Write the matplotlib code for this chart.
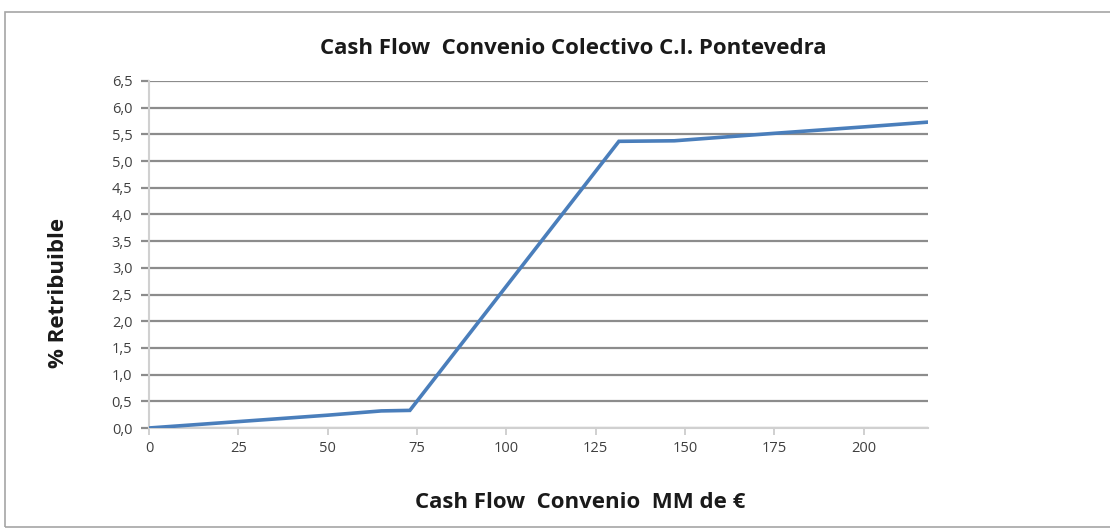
import matplotlib
matplotlib.use("Agg")
import matplotlib.pyplot as plt
from matplotlib.patches import Rectangle
from matplotlib.ticker import FuncFormatter

# Data
cash_flow = [0, 25, 50, 65, 73, 131.5, 147, 175, 200, 218]
pct_retribuible = [0, 0.12, 0.24, 0.32, 0.33, 5.37, 5.38, 5.52, 5.64, 5.73]
x_ticks = [0, 25, 50, 75, 100, 125, 150, 175, 200]
y_ticks = [0, 0.5, 1, 1.5, 2, 2.5, 3, 3.5, 4, 4.5, 5, 5.5, 6, 6.5]
title = "Cash Flow  Convenio Colectivo C.I. Pontevedra"
xlabel = "Cash Flow  Convenio  MM de €"
ylabel = "% Retribuible"

plt.rcParams['font.family'] = ['Open Sans', 'DejaVu Sans']

W, H = 1110, 530
fig = plt.figure(figsize=(W / 100, H / 100), dpi=100)
fig.patch.set_facecolor('white')

# outer chart border
fig.patches.append(Rectangle((5 / W, 3 / H), 1.2, (515) / H, transform=fig.transFigure,
                             fill=False, edgecolor='#a6a6a6', linewidth=1.2))

left, right, top, bottom = 149, 928, 81, 428
ax = fig.add_axes([left / W, 1 - bottom / H, (right - left) / W, (bottom - top) / H])

ax.plot(cash_flow, pct_retribuible, color='#4a7ebb', linewidth=2.6, solid_joinstyle='miter', zorder=3)

ax.set_xlim(0, 218)
ax.set_ylim(0, 6.5)
ax.set_xticks(x_ticks)
ax.set_yticks(y_ticks)
ax.yaxis.set_major_formatter(FuncFormatter(lambda v, p: f"{v:.1f}".replace('.', ',')))
ax.xaxis.set_major_formatter(FuncFormatter(lambda v, p: f"{int(v)}"))

ax.grid(axis='y', color='#8c8c8c', linewidth=1.6)
ax.set_axisbelow(True)
for s in ['top', 'right']:
    ax.spines[s].set_visible(False)
for s in ['left', 'bottom']:
    ax.spines[s].set_color('#d0d0d0')
    ax.spines[s].set_linewidth(1.5)
ax.tick_params(axis='x', direction='out', length=5, color='#c8c8c8', width=1.2,
               labelsize=10.5, labelcolor='#404040', pad=4)
ax.tick_params(axis='y', direction='out', length=6, color='#8c8c8c', width=1.6,
               labelsize=10.5, labelcolor='#404040', pad=6)

fig.text(573 / W, 1 - 48 / H, title, ha='center', va='center', fontsize=16, fontweight='bold',
         color='#1a1a1a')
fig.text(580 / W, 1 - 503 / H, xlabel, ha='center', va='center', fontsize=16, fontweight='bold',
         color='#1a1a1a')
fig.text(59 / W, 1 - 293 / H, ylabel, ha='center', va='center', rotation=90, fontsize=16,
         fontweight='bold', color='#1a1a1a')

fig.savefig('out.png', dpi=100)
